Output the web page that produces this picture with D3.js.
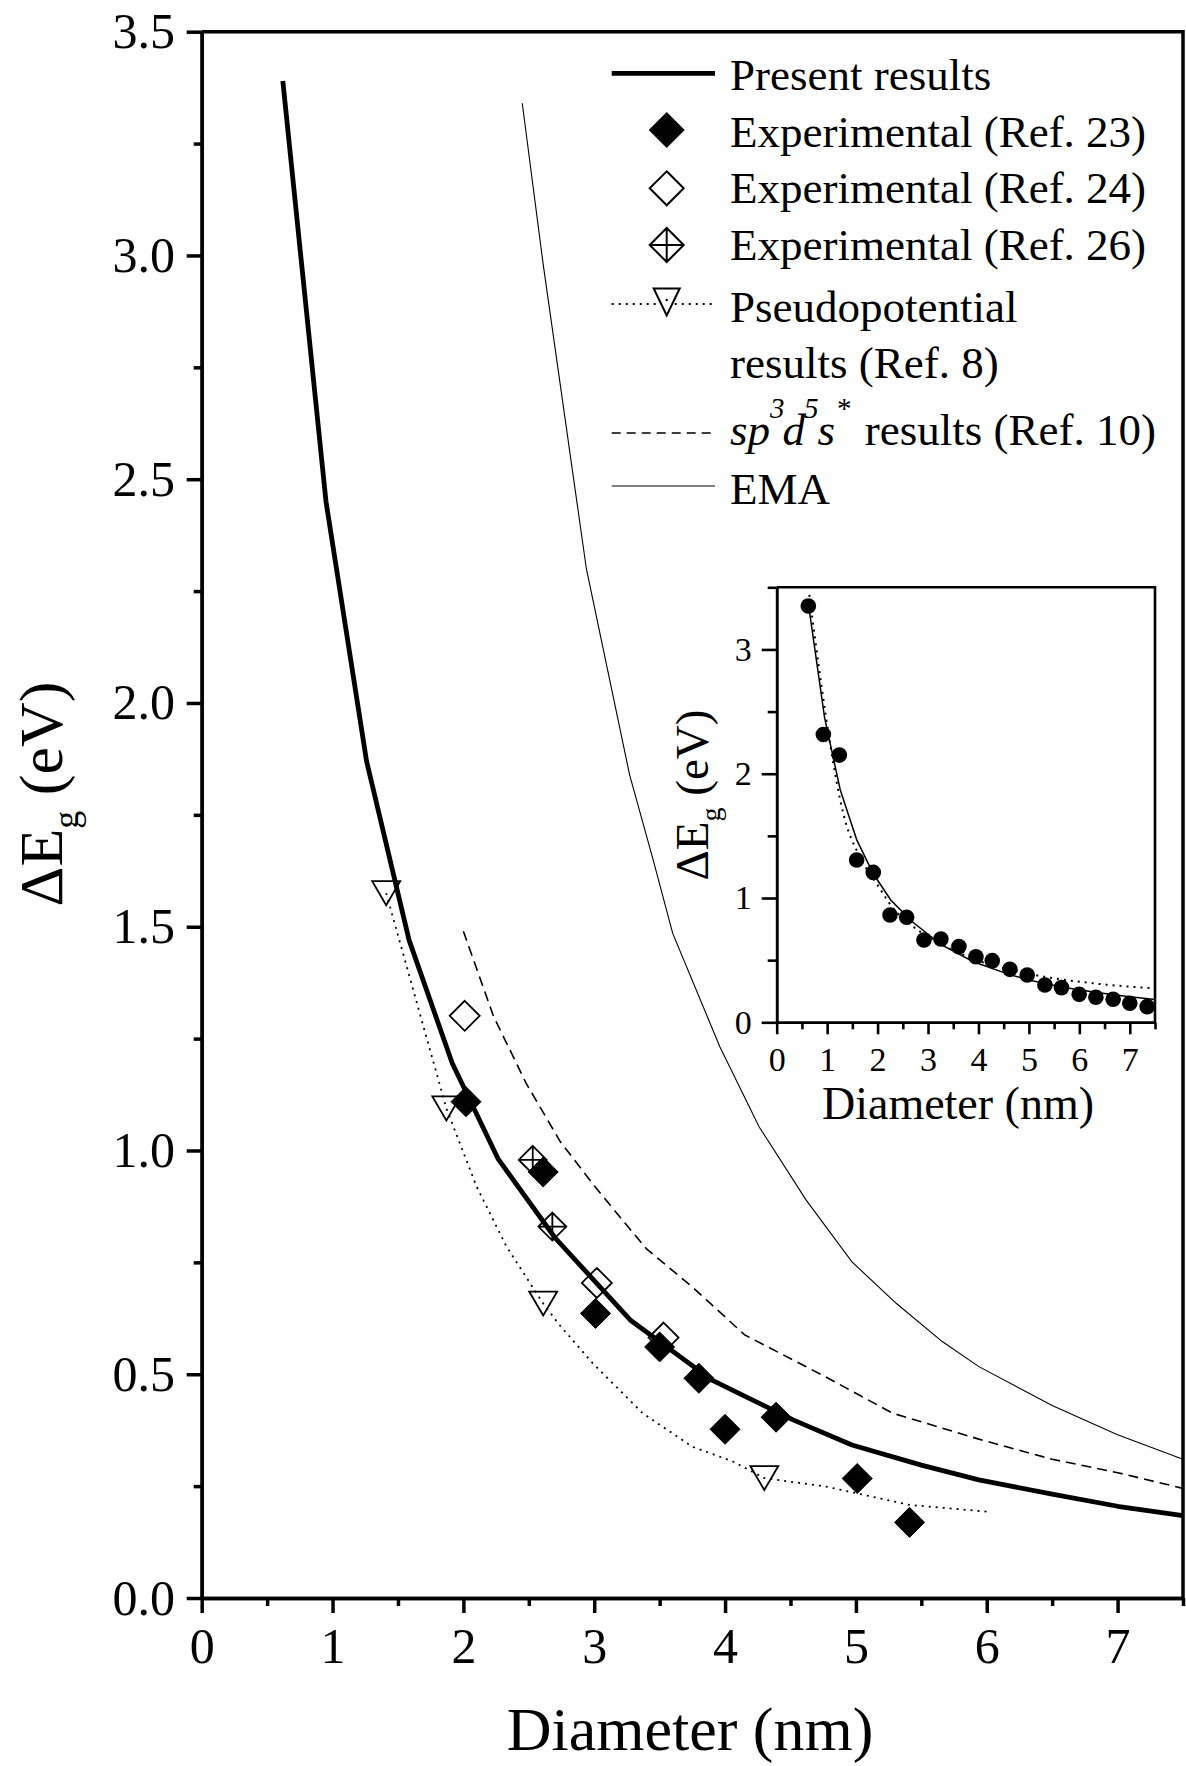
<!DOCTYPE html>
<html>
<head>
<meta charset="utf-8">
<script src="https://d3js.org/d3.v7.min.js"></script>
<style>
  body { margin: 0; background: #fff; }
  svg text { font-family: "Liberation Serif", "Times New Roman", serif; fill: #000; }
</style>
</head>
<body>
<script>
// values: [diameter (nm), delta Eg (eV)]
var presentResults = [[0.62,3.39],[0.95,2.45],[1.26,1.87],[1.585,1.47],[1.915,1.195],[2.264,0.982],
  [2.7,0.805],[3.28,0.62],[3.9,0.487],[4.52,0.398],[4.97,0.342],[5.5,0.297],[5.94,0.264],
  [6.5,0.232],[7.0,0.205],[7.5,0.184]];
var exp23 = [[2.02,1.109],[2.61,0.952],[3.01,0.636],[3.50,0.561],[3.80,0.491],[4.00,0.377],
  [4.39,0.404],[5.01,0.267],[5.41,0.169]];
var exp24 = [[2.01,1.301],[3.02,0.704],[3.53,0.582]];
var exp26 = [[2.53,0.979],[2.68,0.830]];
var pseudoPoints = [[1.41,1.575],[1.87,1.094],[2.61,0.658],[4.30,0.268]];
var pseudoLine = [[1.41,1.575],[1.87,1.094],[2.1,0.92],[2.33,0.785],[2.61,0.658],[2.735,0.61],
  [2.99,0.524],[3.37,0.413],[3.75,0.338],[4.06,0.305],[4.30,0.268],[4.77,0.249],[5.41,0.208],[6.0,0.193]];
var tightBinding = [[2.0,1.49],[2.23,1.30],[2.48,1.15],[2.74,1.02],[2.99,0.925],[3.2,0.85],[3.4,0.78],
  [3.75,0.695],[4.15,0.588],[4.77,0.494],[5.28,0.413],[5.94,0.355],[6.5,0.31],[7.0,0.28],[7.5,0.245]];
var ema = [[2.45,3.34],[2.61,2.98],[2.94,2.30],[3.27,1.84],[3.45,1.65],[3.6,1.485],[3.96,1.232],
  [4.26,1.053],[4.62,0.889],[4.97,0.751],[5.31,0.658],[5.66,0.573],[5.94,0.517],[6.5,0.43],
  [7.0,0.365],[7.5,0.31]];
// inset
var insetDots = [[0.627,3.349],[0.925,2.316],[1.242,2.150],[1.585,1.306],[1.915,1.206],[2.246,0.863],
  [2.576,0.845],[2.919,0.662],[3.256,0.670],[3.613,0.609],[3.95,0.528],[4.273,0.496],[4.623,0.426],
  [4.967,0.381],[5.317,0.300],[5.647,0.279],[5.997,0.225],[6.328,0.201],[6.671,0.185],[7.0,0.153],[7.345,0.126]];
var insetFit = [[0.647,3.44],[0.89,2.70],[1.057,2.244],[1.32,1.68],[1.65,1.33],[1.98,1.118],[2.31,0.917],
  [2.71,0.769],[3.30,0.622],[3.96,0.501],[4.95,0.394],[6.27,0.314],[7.5,0.273]];

var xMajor = [0,1,2,3,4,5,6,7];
var xMinor = [0.5,1.5,2.5,3.5,4.5,5.5,6.5,7.5];
var yMajor = [0,0.5,1,1.5,2,2.5,3,3.5];
var yMinor = [0.25,0.75,1.25,1.75,2.25,2.75,3.25];
var insetYMajor = [0,1,2,3];
var insetYMinor = [0.5,1.5,2.5,3.5];

var svg = d3.select("body").append("svg")
  .attr("width", 1186).attr("height", 1766);

function diamond(cx, cy, r) {
  return "M" + cx + "," + (cy - r) + "L" + (cx + r) + "," + cy + "L" + cx + "," + (cy + r) + "L" + (cx - r) + "," + cy + "Z";
}
function crossDiamond(cx, cy, r) {
  return diamond(cx, cy, r) + "M" + cx + "," + (cy - r) + "V" + (cy + r) + "M" + (cx - r) + "," + cy + "H" + (cx + r);
}
function triangleDown(cx, cy, w, h) {
  return "M" + (cx - w / 2) + "," + (cy - h / 2) + "L" + (cx + w / 2) + "," + (cy - h / 2) + "L" + cx + "," + (cy + h / 2) + "Z";
}

function styleAxis(g, width, size) {
  g.select(".domain").attr("stroke-width", width);
  g.selectAll(".tick line").attr("stroke-width", width);
  g.selectAll(".tick text").style("font-size", size + "px");
}

/* main plot */
var x = d3.scaleLinear().domain([0, 7.5]).range([201.7, 1183]);
var y = d3.scaleLinear().domain([0, 3.5]).range([1598, 31.7]);

svg.append("path")
  .attr("d", "M" + x(0) + "," + y(3.5) + "H" + x(7.5) + "V" + y(0))
  .attr("fill", "none").attr("stroke", "#000").attr("stroke-width", 3.5);

svg.append("g").attr("transform", "translate(0," + y(0) + ")")
  .call(d3.axisBottom(x).tickValues(xMinor).tickSize(8).tickSizeOuter(0).tickFormat(""))
  .call(styleAxis, 3.5, 50);
svg.append("g").attr("transform", "translate(" + x(0) + ",0)")
  .call(d3.axisLeft(y).tickValues(yMinor).tickSize(8).tickSizeOuter(0).tickFormat(""))
  .call(styleAxis, 3.5, 50);
svg.append("g").attr("transform", "translate(0," + y(0) + ")")
  .call(d3.axisBottom(x).tickValues(xMajor).tickSize(15).tickSizeOuter(0).tickPadding(14.5).tickFormat(d3.format("d")))
  .call(styleAxis, 3.5, 50);
svg.append("g").attr("transform", "translate(" + x(0) + ",0)")
  .call(d3.axisLeft(y).tickValues(yMajor).tickSize(15).tickSizeOuter(0).tickPadding(11.7).tickFormat(d3.format(".1f")))
  .call(styleAxis, 3.5, 50);

svg.append("text").attr("x", 690).attr("y", 1750)
  .attr("text-anchor", "middle").style("font-size", "62px").text("Diameter (nm)");

var yl = svg.append("text").attr("transform", "translate(62,794) rotate(-90)")
  .attr("text-anchor", "middle").style("font-size", "62px");
yl.append("tspan").text("\u0394E");
yl.append("tspan").attr("dy", 16).style("font-size", "36px").text("g");
yl.append("tspan").attr("dy", -16).text(" (eV)");

var line = d3.line().x(function(d) { return x(d[0]); }).y(function(d) { return y(d[1]); });

svg.append("path").datum(ema).attr("d", line)
  .attr("fill", "none").attr("stroke", "#000").attr("stroke-width", 1.1);
svg.append("path").datum(tightBinding).attr("d", line)
  .attr("fill", "none").attr("stroke", "#000").attr("stroke-width", 1.6).attr("stroke-dasharray", "10,6");
svg.append("path").datum(pseudoLine).attr("d", line)
  .attr("fill", "none").attr("stroke", "#000").attr("stroke-width", 1.8).attr("stroke-dasharray", "2,5");
svg.append("path").datum(presentResults).attr("d", line)
  .attr("fill", "none").attr("stroke", "#000").attr("stroke-width", 4.8).attr("stroke-linejoin", "round");

svg.append("g").selectAll("path").data(pseudoPoints).enter().append("path")
  .attr("d", function(d) { return triangleDown(x(d[0]), y(d[1]), 28, 24); })
  .attr("fill", "none").attr("stroke", "#000").attr("stroke-width", 1.8);
svg.append("g").selectAll("path").data(exp26).enter().append("path")
  .attr("d", function(d) { return crossDiamond(x(d[0]), y(d[1]), 14); })
  .attr("fill", "none").attr("stroke", "#000").attr("stroke-width", 1.8);
svg.append("g").selectAll("path").data(exp24).enter().append("path")
  .attr("d", function(d) { return diamond(x(d[0]), y(d[1]), 15); })
  .attr("fill", "none").attr("stroke", "#000").attr("stroke-width", 1.8);
svg.append("g").selectAll("path").data(exp23).enter().append("path")
  .attr("d", function(d) { return diamond(x(d[0]), y(d[1]), 15); })
  .attr("fill", "#000").attr("stroke", "#000").attr("stroke-width", 1);

/* legend */
var leg = svg.append("g");
var lx0 = 611.7, lx1 = 715, lxc = 666.7, tx = 730;
leg.append("line").attr("x1", lx0).attr("x2", lx1).attr("y1", 73.3).attr("y2", 73.3)
  .attr("stroke", "#000").attr("stroke-width", 4.8);
leg.append("text").attr("x", tx).attr("y", 90).style("font-size", "45px").text("Present results");
leg.append("path").attr("d", diamond(lxc, 130, 18)).attr("fill", "#000");
leg.append("text").attr("x", tx).attr("y", 146.7).style("font-size", "45px").text("Experimental (Ref. 23)");
leg.append("path").attr("d", diamond(lxc, 188.3, 17)).attr("fill", "none").attr("stroke", "#000").attr("stroke-width", 2);
leg.append("text").attr("x", tx).attr("y", 203).style("font-size", "45px").text("Experimental (Ref. 24)");
leg.append("path").attr("d", crossDiamond(lxc, 245, 17)).attr("fill", "none").attr("stroke", "#000").attr("stroke-width", 2);
leg.append("text").attr("x", tx).attr("y", 260).style("font-size", "45px").text("Experimental (Ref. 26)");
leg.append("line").attr("x1", lx0).attr("x2", lx1).attr("y1", 304).attr("y2", 304)
  .attr("stroke", "#000").attr("stroke-width", 1.8).attr("stroke-dasharray", "2,5");
leg.append("path").attr("d", triangleDown(lxc, 302, 26, 27)).attr("fill", "#fff").attr("stroke", "#000").attr("stroke-width", 2);
leg.append("circle").attr("cx", lxc).attr("cy", 300).attr("r", 1.2).attr("fill", "#000");
leg.append("text").attr("x", tx).attr("y", 321.7).style("font-size", "45px").text("Pseudopotential");
leg.append("text").attr("x", tx).attr("y", 378).style("font-size", "45px").text("results (Ref. 8)");
leg.append("line").attr("x1", lx0).attr("x2", lx1).attr("y1", 433).attr("y2", 433)
  .attr("stroke", "#000").attr("stroke-width", 1.6).attr("stroke-dasharray", "9,6");
var sp = leg.append("text").attr("x", tx).attr("y", 445).style("font-size", "45px");
sp.append("tspan").style("font-style", "italic").text("sp");
sp.append("tspan").attr("dy", -27).style("font-size", "29px").style("font-style", "italic").text("3");
sp.append("tspan").attr("dy", 27).attr("dx", -2).style("font-style", "italic").text("d");
sp.append("tspan").attr("dy", -27).attr("dx", -1).style("font-size", "29px").style("font-style", "italic").text("5");
sp.append("tspan").attr("dy", 27).attr("dx", -1).style("font-style", "italic").text("s");
sp.append("tspan").attr("dy", -27).attr("dx", 2).style("font-size", "29px").text("*");
sp.append("tspan").attr("dy", 27).attr("dx", 2).text(" results (Ref. 10)");
leg.append("line").attr("x1", lx0).attr("x2", lx1).attr("y1", 486).attr("y2", 486)
  .attr("stroke", "#000").attr("stroke-width", 1.1);
leg.append("text").attr("x", tx).attr("y", 504).style("font-size", "45px").text("EMA");

/* inset */
var x2 = d3.scaleLinear().domain([0, 7.5]).range([776.7, 1155]);
var y2 = d3.scaleLinear().domain([0, 3.5]).range([1022.3, 587.3]);

svg.append("path")
  .attr("d", "M" + x2(0) + "," + y2(3.5) + "H" + x2(7.5) + "V" + y2(0))
  .attr("fill", "none").attr("stroke", "#000").attr("stroke-width", 2.6);
svg.append("g").attr("transform", "translate(0," + y2(0) + ")")
  .call(d3.axisBottom(x2).tickValues(xMinor).tickSize(7).tickSizeOuter(0).tickFormat(""))
  .call(styleAxis, 2.6, 34);
svg.append("g").attr("transform", "translate(" + x2(0) + ",0)")
  .call(d3.axisLeft(y2).tickValues(insetYMinor).tickSize(9).tickSizeOuter(0).tickFormat(""))
  .call(styleAxis, 2.6, 34);
svg.append("g").attr("transform", "translate(0," + y2(0) + ")")
  .call(d3.axisBottom(x2).tickValues(xMajor).tickSize(12).tickSizeOuter(0).tickPadding(12.5).tickFormat(d3.format("d")))
  .call(styleAxis, 2.6, 34);
svg.append("g").attr("transform", "translate(" + x2(0) + ",0)")
  .call(d3.axisLeft(y2).tickValues(insetYMajor).tickSize(15).tickSizeOuter(0).tickPadding(10).tickFormat(d3.format("d")))
  .call(styleAxis, 2.6, 34);

svg.append("text").attr("x", 958).attr("y", 1119)
  .attr("text-anchor", "middle").style("font-size", "46px").text("Diameter (nm)");
var yl2 = svg.append("text").attr("transform", "translate(708,795) rotate(-90)")
  .attr("text-anchor", "middle").style("font-size", "47px");
yl2.append("tspan").text("\u0394E");
yl2.append("tspan").attr("dy", 12).style("font-size", "28px").text("g");
yl2.append("tspan").attr("dy", -12).text(" (eV)");

var line2 = d3.line().x(function(d) { return x2(d[0]); }).y(function(d) { return y2(d[1]); });
svg.append("path").datum(insetFit).attr("d", line2.curve(d3.curveMonotoneX))
  .attr("fill", "none").attr("stroke", "#000").attr("stroke-width", 2).attr("stroke-dasharray", "2,5");
svg.append("path").datum(presentResults).attr("d", d3.line().x(function(d) { return x2(d[0]); }).y(function(d) { return y2(d[1]); }))
  .attr("fill", "none").attr("stroke", "#000").attr("stroke-width", 1.5);
svg.append("g").selectAll("circle").data(insetDots).enter().append("circle")
  .attr("cx", function(d) { return x2(d[0]); })
  .attr("cy", function(d) { return y2(d[1]); })
  .attr("r", 7.8).attr("fill", "#000");
</script>
</body>
</html>
